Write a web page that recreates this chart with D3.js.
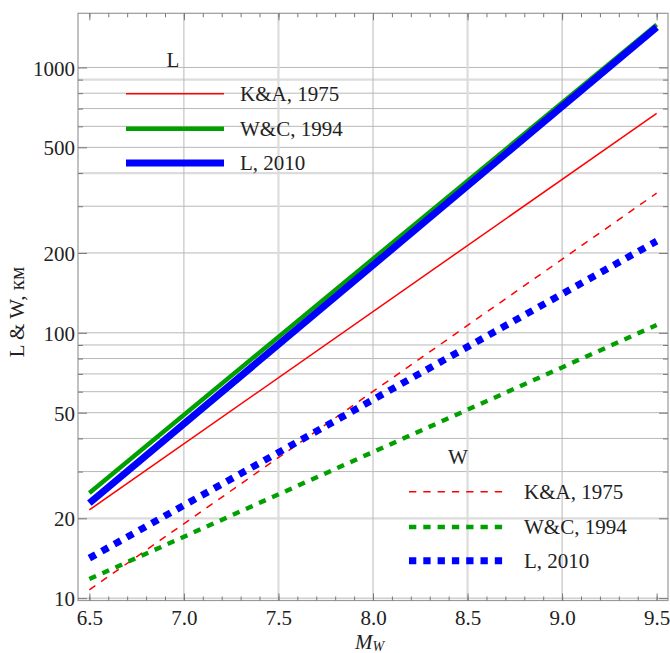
<!DOCTYPE html>
<html><head><meta charset="utf-8">
<script src="https://cdn.jsdelivr.net/npm/d3@7"></script>
<style>body{margin:0;background:#fff}svg{display:block}svg text{font-family:"Liberation Serif","DejaVu Serif","Times New Roman",Times,serif !important;fill:#222}</style>
</head><body><svg id="c" width="670" height="653"></svg>
<script>
// x positions of line endpoints (moment magnitude)
const magnitudes = [6.5, 9.5];
// Length relations (km)
const L_KA1975 = [21.5, 672];
const L_WC1994 = [24.9, 1450];
const L_L2010  = [22.8, 1418];
// Width relations (km)
const W_KA1975 = [10.75, 336];
const W_WC1994 = [11.8, 107];
const W_L2010  = [14.15, 221.5];
const seriesNames = ["K&A, 1975", "W&C, 1994", "L, 2010"];
const xTicks = [6.5, 7.0, 7.5, 8.0, 8.5, 9.0, 9.5];
const yTickLabels = [10, 20, 50, 100, 200, 500, 1000];

const FONT = '"Liberation Serif","DejaVu Serif",serif';
const svg = d3.select("#c");
const W0 = 78, W1 = 668, H0 = 13.3, H1 = 600.5;
const x = d3.scaleLinear().domain([6.44, 9.56]).range([W0, W1]);
const y = d3.scaleLog().domain([9.8, 1600]).range([H1, H0]);

// grid
const gridH = [];
[10, 100, 1000].forEach(d => { for (let k = 1; k < 10; k++) { const v = d * k; if (v >= 10 && v <= 1600) gridH.push(v); } });
const lightH = [20, 400, 900];
const g = svg.append("g");
g.selectAll(".gh").data(gridH).join("line")
  .attr("x1", W0).attr("x2", W1).attr("y1", d => y(d)).attr("y2", d => y(d))
  .attr("stroke", d => lightH.includes(d) ? "#dcdcdc" : "#b8b8b8")
  .attr("stroke-width", d => lightH.includes(d) ? 2.2 : 1);
const gridV = [7.0, 7.5, 8.0, 8.5, 9.0];
g.selectAll(".gv").data(gridV).join("line")
  .attr("y1", H0).attr("y2", H1).attr("x1", d => x(d)).attr("x2", d => x(d))
  .attr("stroke", d => (d % 1 === 0) ? "#b8b8b8" : "#dcdcdc")
  .attr("stroke-width", d => (d % 1 === 0) ? 1 : 2.2);

// frame
svg.append("rect").attr("x", W0).attr("y", H0).attr("width", W1 - W0).attr("height", H1 - H0)
  .attr("fill", "none").attr("stroke", "#999").attr("stroke-width", 1.2);

// axes with inside ticks
const minorX = d3.range(64, 96).map(v => v / 10).filter(v => v >= 6.44 && v <= 9.56);
const axB = d3.axisBottom(x).tickValues(xTicks).tickSize(-7).tickPadding(10).tickFormat(d3.format(".1f"));
const axBm = d3.axisBottom(x).tickValues(minorX).tickSize(-4).tickFormat("");
const axT = d3.axisTop(x).tickValues(xTicks).tickSize(-7).tickFormat("");
const axTm = d3.axisTop(x).tickValues(minorX).tickSize(-4).tickFormat("");
const minorY = gridH.filter(v => !yTickLabels.includes(v));
const axL = d3.axisLeft(y).tickValues(yTickLabels).tickSize(-9).tickPadding(3).tickFormat(d3.format("d"));
const axLm = d3.axisLeft(y).tickValues(minorY).tickSize(-5).tickFormat("");
const axR = d3.axisRight(y).tickValues(yTickLabels).tickSize(-9).tickFormat("");
const axRm = d3.axisRight(y).tickValues(minorY).tickSize(-5).tickFormat("");
function place(ax, tr) {
  const a = svg.append("g").attr("transform", tr).call(ax).attr("font-family", FONT);
  a.select(".domain").remove();
  a.selectAll(".tick line").attr("stroke", "#777");
  a.selectAll("text").attr("font-size", 21).attr("fill", "#222").attr("font-family", FONT);
  return a;
}
place(axB, `translate(0,${H1})`);
place(axBm, `translate(0,${H1})`);
place(axT, `translate(0,${H0})`);
place(axTm, `translate(0,${H0})`);
const aL = place(axL, `translate(${W0},0)`);
aL.selectAll("text").attr("dy", "0.36em");
place(axLm, `translate(${W0},0)`);
place(axR, `translate(${W1},0)`);
place(axRm, `translate(${W1},0)`);

// series
const colors = ["#ff0000", "#00a000", "#0000ff"];
const widths = [1.5, 4.4, 7];
const dash = "7.3,7";
const Lseries = [L_KA1975, L_WC1994, L_L2010];
const Wseries = [W_KA1975, W_WC1994, W_L2010];
const line = d3.line().x(d => x(d[0])).y(d => y(d[1]));
const lines = [];
Wseries.forEach((s, i) => lines.push({ v: s, i, dashed: true }));
Lseries.forEach((s, i) => lines.push({ v: s, i, dashed: false }));
svg.append("g").selectAll("path").data(lines).join("path")
  .attr("d", d => line(magnitudes.map((m, k) => [m, d.v[k]])))
  .attr("fill", "none")
  .attr("stroke", d => colors[d.i])
  .attr("stroke-width", d => widths[d.i])
  .attr("stroke-dasharray", d => d.dashed ? dash : null);

// legends
function legend(title, tx, ty, ys, x1, x2, lx, dashed) {
  svg.append("text").attr("x", tx).attr("y", ty).attr("text-anchor", "middle").attr("font-family", FONT).attr("font-size", 21).text(title);
  seriesNames.forEach((n, i) => {
    svg.append("line").attr("x1", x1).attr("x2", x2).attr("y1", ys[i]).attr("y2", ys[i])
      .attr("stroke", colors[i]).attr("stroke-width", widths[i]).attr("stroke-dasharray", dashed ? dash : null);
    svg.append("text").attr("x", lx).attr("y", ys[i]).attr("dy", "0.35em").attr("font-family", FONT).attr("font-size", 21).text(n);
  });
}
legend("L", 173, 67, [93.7, 128.7, 163], 126, 224, 240, false);
legend("W", 458, 464, [491.7, 527, 560.7], 409, 505, 524, true);

// axis titles
svg.append("text").attr("transform", "translate(23.5,312) rotate(-90)").attr("text-anchor", "middle")
  .attr("font-family", FONT).attr("font-size", 21).text("L & W, км");
const mt = svg.append("text").attr("x", 355).attr("y", 649).attr("font-family", FONT).attr("font-size", 21).attr("font-style", "italic");
mt.append("tspan").text("M");
mt.append("tspan").attr("dy", 2).attr("font-size", 14).text("W");
</script></body></html>
